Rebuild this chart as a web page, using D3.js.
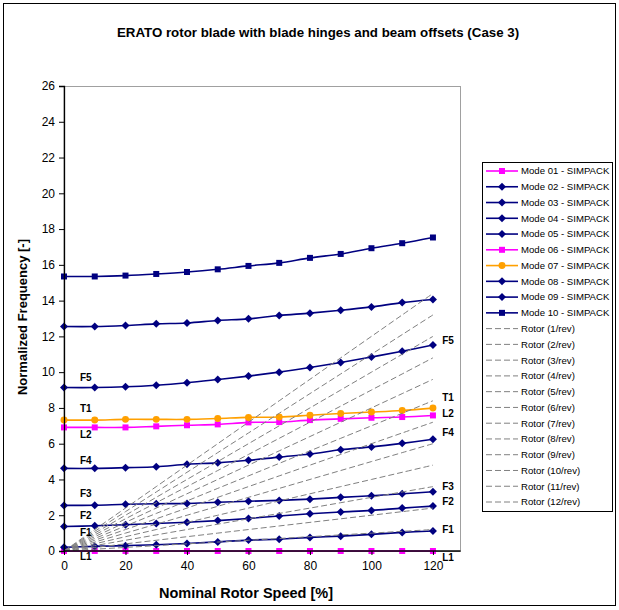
<!DOCTYPE html>
<html>
<head>
<meta charset="utf-8">
<script src="https://cdn.jsdelivr.net/npm/d3@7"></script>
<style>
  body { margin: 0; background: #fff; }
  text { font-family: Arial, "Liberation Sans", sans-serif; }
</style>
</head>
<body>
<div id="chart"></div>
<script>
// rotor speed in percent of nominal
var speeds = [0, 10, 20, 30, 40, 50, 60, 70, 80, 90, 100, 110, 120];

// normalized frequencies per mode
var mode01 = [0, 0, 0, 0, 0, 0, 0, 0, 0, 0, 0, 0, 0];
var mode02 = [0.21, 0.26, 0.30, 0.35, 0.42, 0.51, 0.61, 0.66, 0.76, 0.83, 0.93, 1.04, 1.12];
var mode03 = [1.37, 1.41, 1.47, 1.54, 1.61, 1.70, 1.82, 1.96, 2.08, 2.18, 2.27, 2.40, 2.51];
var mode04 = [2.55, 2.56, 2.61, 2.64, 2.66, 2.73, 2.78, 2.83, 2.90, 3.00, 3.09, 3.20, 3.31];
var mode05 = [4.62, 4.62, 4.66, 4.71, 4.85, 4.93, 5.07, 5.25, 5.42, 5.66, 5.82, 6.02, 6.25];
var mode06 = [6.91, 6.91, 6.91, 6.97, 7.03, 7.08, 7.19, 7.21, 7.32, 7.39, 7.45, 7.49, 7.58];
var mode07 = [7.32, 7.32, 7.36, 7.36, 7.36, 7.41, 7.47, 7.49, 7.59, 7.69, 7.77, 7.86, 7.99];
var mode08 = [9.14, 9.14, 9.18, 9.27, 9.41, 9.59, 9.78, 10.0, 10.26, 10.54, 10.85, 11.17, 11.52];
var mode09 = [12.55, 12.55, 12.61, 12.70, 12.75, 12.89, 12.98, 13.17, 13.30, 13.46, 13.65, 13.89, 14.06];
var mode10 = [15.35, 15.35, 15.40, 15.49, 15.60, 15.75, 15.94, 16.11, 16.39, 16.61, 16.93, 17.21, 17.53];

var modeNames = ["Mode 01 - SIMPACK", "Mode 02 - SIMPACK", "Mode 03 - SIMPACK", "Mode 04 - SIMPACK",
  "Mode 05 - SIMPACK", "Mode 06 - SIMPACK", "Mode 07 - SIMPACK", "Mode 08 - SIMPACK",
  "Mode 09 - SIMPACK", "Mode 10 - SIMPACK"];
var modeValues = [mode01, mode02, mode03, mode04, mode05, mode06, mode07, mode08, mode09, mode10];
var modeColors = ["#ff00ff", "#000080", "#000080", "#000080", "#000080", "#ff00ff", "#ffa000", "#000080", "#000080", "#000080"];
var modeMarkers = ["square", "diamond", "diamond", "diamond", "diamond", "square", "circle", "diamond", "diamond", "square"];

// n/rev excitation lines
var rotorOrders = [1, 2, 3, 4, 5, 6, 7, 8, 9, 10, 11, 12];

// mode labels placed at the ends of the curves
var leftLabels = ["F5", "T1", "L2", "F4", "F3", "F2", "F1", "L1"];
var leftLabelY = [9.72, 7.99, 6.54, 5.08, 3.24, 1.96, 1.06, -0.28];
var rightLabels = ["F5", "T1", "L2", "F4", "F3", "F2", "F1", "L1"];
var rightLabelY = [11.79, 8.6, 7.71, 6.65, 3.58, 2.74, 1.23, -0.34];

var yTicks = d3.range(0, 27, 2);
var xTicks = [0, 20, 40, 60, 80, 100, 120];

var W = 619, H = 610;
var plot = { left: 64, top: 86, right: 460, bottom: 551 };

var svg = d3.select("#chart").append("svg")
  .attr("width", W)
  .attr("height", H);

// chart area border
svg.append("rect")
  .attr("x", 3.5).attr("y", 3.5)
  .attr("width", 612).attr("height", 602)
  .attr("fill", "#fff")
  .attr("stroke", "#000")
  .attr("stroke-width", 1);

var x = d3.scaleLinear().domain([0, 128.8]).range([plot.left, plot.right]);
var y = d3.scaleLinear().domain([0, 26]).range([plot.bottom, plot.top]);

// plot area frame (grey top / right)
svg.append("rect")
  .attr("x", plot.left).attr("y", plot.top + 0.5)
  .attr("width", plot.right - plot.left + 0.5)
  .attr("height", plot.bottom - plot.top)
  .attr("fill", "none")
  .attr("stroke", "#a0a0a0")
  .attr("stroke-width", 1);

var line = d3.line()
  .x(function (d) { return x(d[0]); })
  .y(function (d) { return y(d[1]); })
  .curve(d3.curveCatmullRom.alpha(0.5));

var series = modeValues.map(function (vals, i) {
  return {
    name: modeNames[i],
    color: modeColors[i],
    marker: modeMarkers[i],
    points: speeds.map(function (s, j) { return [s, vals[j]]; })
  };
});

var rotors = rotorOrders.map(function (n) {
  return {
    name: "Rotor (" + n + "/rev)",
    points: speeds.map(function (s) { return [s, n * s / 100]; })
  };
});

// squat Excel-like diamond (equal width and height)
var excelDiamond = {
  draw: function (context, size) {
    var r = Math.sqrt(size / 2);
    context.moveTo(0, -r);
    context.lineTo(r, 0);
    context.lineTo(0, r);
    context.lineTo(-r, 0);
    context.closePath();
  }
};

var symbolFor = function (m) {
  if (m === "square") return d3.symbol().type(d3.symbolSquare).size(36);
  if (m === "circle") return d3.symbol().type(d3.symbolCircle).size(38);
  return d3.symbol().type(excelDiamond).size(32);
};

// mode curves
var g = svg.append("g");
series.forEach(function (s) {
  g.append("path")
    .attr("d", line(s.points))
    .attr("fill", "none")
    .attr("stroke", s.color)
    .attr("stroke-width", 1.6);
  g.selectAll(null)
    .data(s.points)
    .enter()
    .append("path")
    .attr("d", symbolFor(s.marker))
    .attr("transform", function (d) { return "translate(" + x(d[0]) + "," + y(d[1]) + ")"; })
    .attr("fill", s.color);
});

// rotor excitation lines
rotors.forEach(function (r) {
  g.append("path")
    .attr("d", line(r.points))
    .attr("fill", "none")
    .attr("stroke", "#808080")
    .attr("stroke-width", 1)
    .attr("stroke-dasharray", "6,3");
});

// axes
var yAxis = d3.axisLeft(y).tickValues(yTicks).tickSize(5).tickPadding(4);
var xAxis = d3.axisBottom(x).tickValues(xTicks).tickSize(4).tickPadding(6);

var ya = svg.append("g")
  .attr("transform", "translate(" + plot.left + ",0)")
  .call(yAxis);
var xa = svg.append("g")
  .attr("transform", "translate(0," + plot.bottom + ")")
  .call(xAxis);

[ya, xa].forEach(function (a) {
  a.select(".domain").attr("stroke", "#000").attr("stroke-width", 1.3);
  a.selectAll(".tick line").attr("stroke", "#000");
  a.selectAll(".tick text")
    .attr("fill", "#000")
    .style("font-size", "12px")
    .style("font-family", "Arial, 'Liberation Sans', sans-serif");
});
// extend x axis line to right edge of plot area
xa.select(".domain").attr("d", "M" + plot.left + ",0H" + (plot.right + 0.5));

// curve labels
svg.selectAll(".llab")
  .data(leftLabels)
  .enter()
  .append("text")
  .attr("class", "llab")
  .attr("x", x(5.2))
  .attr("y", function (d, i) { return y(leftLabelY[i]); })
  .attr("dy", "0.35em")
  .style("font-size", "10px")
  .style("font-weight", "bold")
  .text(function (d) { return d; });

svg.selectAll(".rlab")
  .data(rightLabels)
  .enter()
  .append("text")
  .attr("class", "rlab")
  .attr("x", x(123))
  .attr("y", function (d, i) { return y(rightLabelY[i]); })
  .attr("dy", "0.35em")
  .style("font-size", "10px")
  .style("font-weight", "bold")
  .text(function (d) { return d; });

// titles
svg.append("text")
  .attr("x", 318).attr("y", 37)
  .attr("text-anchor", "middle")
  .style("font-size", "13.3px")
  .style("font-weight", "bold")
  .text("ERATO rotor blade with blade hinges and beam offsets (Case 3)");

svg.append("text")
  .attr("x", 246).attr("y", 598)
  .attr("text-anchor", "middle")
  .style("font-size", "14.5px")
  .style("font-weight", "bold")
  .text("Nominal Rotor Speed [%]");

svg.append("text")
  .attr("transform", "translate(27," + 317 + ") rotate(-90)")
  .attr("text-anchor", "middle")
  .style("font-size", "13px")
  .style("font-weight", "bold")
  .text("Normalized Frequency [-]");

// legend
var legendItems = series.map(function (s) { return { name: s.name, color: s.color, marker: s.marker, dashed: false }; })
  .concat(rotors.map(function (r) { return { name: r.name, color: "#808080", marker: null, dashed: true }; }));

var lg = svg.append("g");
lg.append("rect")
  .attr("x", 482.5).attr("y", 162.5)
  .attr("width", 130).attr("height", 349)
  .attr("fill", "#fff")
  .attr("stroke", "#000")
  .attr("stroke-width", 1);

var rowY = d3.scaleLinear().domain([0, legendItems.length - 1]).range([171, 502]);

var rows = lg.selectAll(".row")
  .data(legendItems)
  .enter()
  .append("g")
  .attr("class", "row")
  .attr("transform", function (d, i) { return "translate(0," + rowY(i) + ")"; });

rows.append("line")
  .attr("x1", 486).attr("x2", 518)
  .attr("stroke", function (d) { return d.color; })
  .attr("stroke-width", function (d) { return d.dashed ? 1 : 1.6; })
  .attr("stroke-dasharray", function (d) { return d.dashed ? "6,3" : null; });

rows.filter(function (d) { return d.marker; })
  .append("path")
  .attr("d", function (d) { return symbolFor(d.marker)(); })
  .attr("transform", "translate(502,0)")
  .attr("fill", function (d) { return d.color; });

rows.append("text")
  .attr("x", 521)
  .attr("dy", "0.35em")
  .style("font-size", "9.6px")
  .text(function (d) { return d.name; });
</script>
</body>
</html>
